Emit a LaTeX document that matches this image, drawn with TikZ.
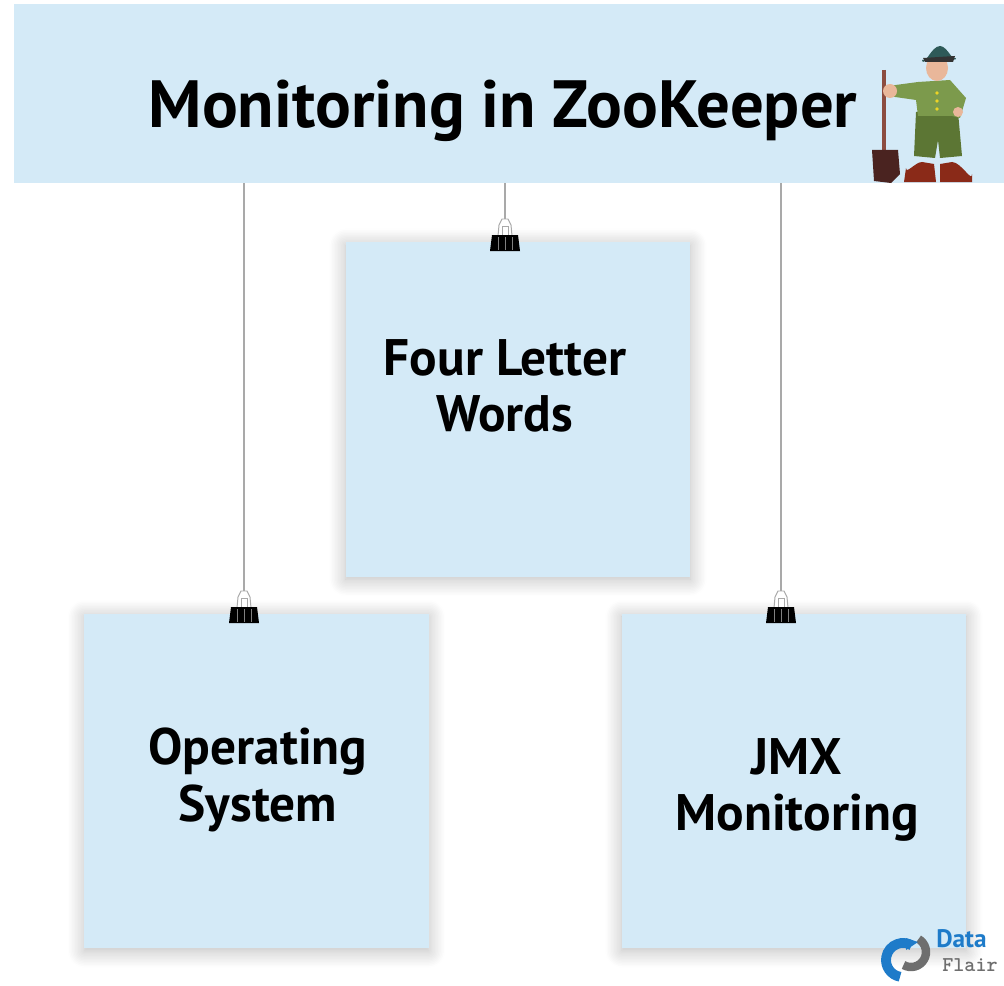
\documentclass[tikz,border=0pt]{standalone}
\usepackage{fontspec}
\setmainfont{PT Sans}
\usetikzlibrary{shadows.blur}

\definecolor{paper}{HTML}{D4EAF7}
\definecolor{twine}{HTML}{A9A9A9}
\definecolor{uniform}{HTML}{7C9A4C}
\definecolor{uniformdk}{HTML}{5C7634}
\definecolor{skin}{HTML}{E9B79A}
\definecolor{hatcol}{HTML}{2E5A58}
\definecolor{boot}{HTML}{8A2A18}
\definecolor{spade}{HTML}{4A2320}
\definecolor{shaft}{HTML}{8C4C40}
\definecolor{dfblue}{HTML}{1E7BC9}
\definecolor{dfgray}{HTML}{6E6E6E}

\tikzset{
	note/.style={fill=paper, minimum width=8.6cm, minimum height=8.35cm, inner sep=0pt,
		blur shadow={shadow xshift=0pt, shadow yshift=-2pt, shadow blur radius=12pt, shadow blur steps=12, shadow opacity=28}},
	notetext/.style={align=center, font=\bfseries\fontsize{36.5}{40}\selectfont},
	string/.style={twine, line width=1.1pt},
	binder/.pic={
		% wire handles
		\draw[twine, line width=0.7pt, fill=white] (-7,-7) -- (-6,-18) -- (-3,-24) -- (3,-24) -- (6,-18) -- (7,-7);
		\draw[twine, line width=0.5pt] (-3,-7) -- (-3,-17) -- (3,-17) -- (3,-7);
		% clip body
		\fill[black] (-13,-8) -- (13,-8) -- (15,8) -- (-15,8) -- cycle;
		\foreach \s in {-7,0,7} \draw[gray, line width=0.5pt] (\s,-6) -- (\s,7);
	}
}

\begin{document}
\begin{tikzpicture}[x=0.025cm, y=-0.025cm]
	\useasboundingbox (0,0) rectangle (1004,985);

	%banner
	\node[fill=paper, minimum width=24.75cm, minimum height=4.475cm, inner sep=0pt] (banner) at (509,93.5) {};
	\node[anchor=base, font=\bfseries\fontsize{47.5}{50}\selectfont] (title) at (503,128) {Monitoring in ZooKeeper};

	%zookeeper
	\draw[shaft, line width=3pt] (884,70) -- (884,152);						%spade handle
	\fill[spade] (872,150) -- (898,150) -- (900,174) -- (891,183) -- (874,181) -- cycle;	%blade
	\fill[boot] (906,168) to[out=-90,in=180] (922,162) -- (934,164) -- (936,182) -- (904,182) -- cycle;
	\fill[boot] (940,164) -- (952,162) to[out=0,in=-90] (972,174) -- (972,182) -- (940,182) -- cycle;
	\fill[uniformdk] (916,112) -- (958,112) -- (962,156) -- (940,158) -- (938,140) -- (935,158) -- (914,156) -- cycle; %shorts
	\fill[uniform] (918,82) -- (950,80) -- (966,98) -- (960,118) -- (952,116) -- (956,100) -- (954,116) -- (918,116) -- (916,100) -- (888,96) -- (888,86) -- cycle; %jacket
	\fill[skin] (890,91) circle (7);										%hand
	\fill[skin] (958,112) circle (5);
	\fill[skin] (937,68) ellipse (11 and 13);								%head
	\fill[hatcol] (922,60) to[out=-80,in=180] (940,46) to[out=0,in=-100] (956,58) -- cycle; %hat
	\fill[black!80] (923,58) -- (955,56) -- (953,62) -- (925,62) -- cycle;	%visor
	\foreach \b in {93,101,109} \fill[yellow!70!brown] (937,\b) circle (1.8);

	%notes
	\node[note] (four) at (518,409.5) {};
	\node[note] (os) at (256.5,781) {};
	\node[note] (jmx) at (794,781) {};
	\node[notetext] (fourtxt) at (505,386) {Four Letter\\Words};
	\node[notetext] (ostxt) at (258,780) {Operating\\System};
	\node[notetext] (jmxtxt) at (797,790) {JMX\\Monitoring};

	%clips and strings
	\coordinate (hookF) at (505,219);
	\coordinate (hookO) at (244,591);
	\coordinate (hookJ) at (781,591);
	\draw[string] (banner.south -| hookF) -- (hookF);
	\draw[string] (banner.south -| hookO) -- (hookO);
	\draw[string] (banner.south -| hookJ) -- (hookJ);
	\pic at (505,243) {binder};
	\pic at (244,615) {binder};
	\pic at (781,615) {binder};

	%logo
	\draw[dfgray, line width=6pt] (911,952) ++(-60:15) arc (-60:120:15);
	\draw[dfblue, line width=7pt] (903,960) ++(100:17) arc (100:300:17);
	\fill[dfblue] (906,938) -- (918,942) -- (906,950) -- cycle;
	\node[anchor=west, text=dfblue, font=\bfseries\fontsize{18}{18}\selectfont, inner sep=0pt] (dfdata) at (936,939) {Data};
	\node[anchor=west, text=dfgray, font=\bfseries\ttfamily\fontsize{15}{15}\selectfont, inner sep=0pt] (dfflair) at (942,965) {Flair};
\end{tikzpicture}
\end{document}
